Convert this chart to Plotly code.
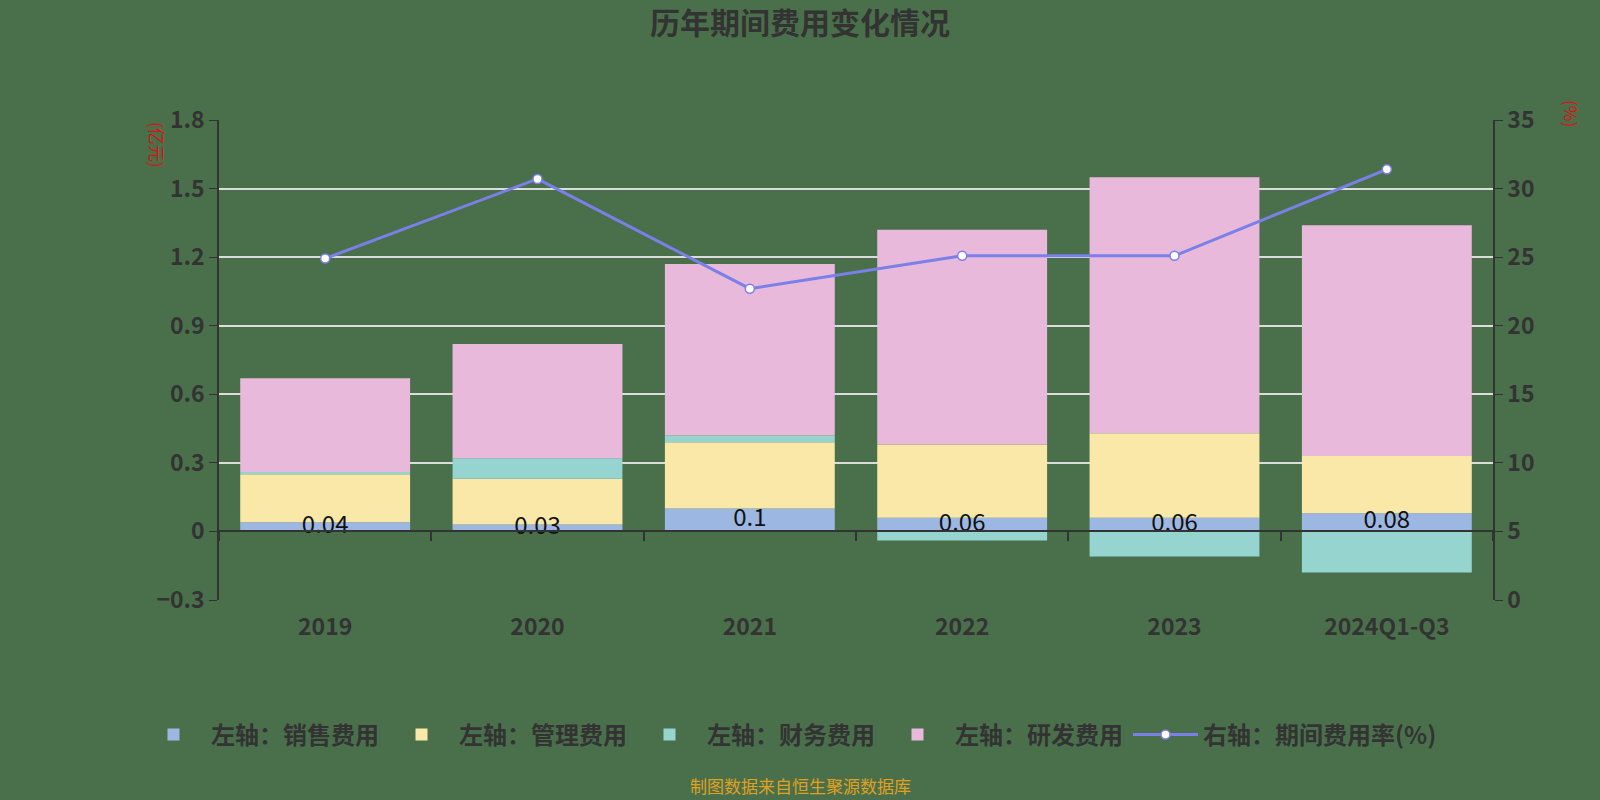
import plotly.graph_objects as go

years = ["2019", "2020", "2021", "2022", "2023", "2024Q1-Q3"]
sales = [0.04, 0.03, 0.10, 0.06, 0.06, 0.08]
mgmt = [0.21, 0.20, 0.29, 0.32, 0.37, 0.25]
finance = [0.01, 0.09, 0.03, -0.04, -0.11, -0.18]
rnd = [0.41, 0.50, 0.75, 0.94, 1.12, 1.01]
rate = [24.9, 30.7, 22.7, 25.1, 25.1, 31.4]

names = ["左轴：销售费用", "左轴：管理费用", "左轴：财务费用", "左轴：研发费用", "右轴：期间费用率(%)"]
colors = ["#9db7e3", "#fae8a8", "#96d4d0", "#e8b9da", "#7b7fe8"]

FONT = "Noto Sans CJK SC"
TXT = "#333333"
BG = "#4a704b"

fig = go.Figure()
for vals, nm, col in zip([sales, mgmt, finance, rnd], names[:4], colors[:4]):
    fig.add_trace(go.Bar(x=years, y=vals, name=nm, marker=dict(color=col, line=dict(width=0)),
                         xaxis="x", yaxis="y"))

fig.add_trace(go.Scatter(x=years, y=rate, name=names[4], mode="lines+markers",
                         line=dict(color=colors[4], width=3),
                         marker=dict(symbol="circle", size=9, color="white",
                                     line=dict(color=colors[4], width=1.5)),
                         xaxis="x", yaxis="y2"))

fig.add_trace(go.Scatter(x=years, y=[v / 2 for v in sales], mode="text",
                         text=[f"{v:g}" for v in sales], showlegend=False,
                         textfont=dict(family=FONT, size=24, color="#111111"),
                         hoverinfo="skip", xaxis="x2", yaxis="y"))

tickfont = dict(family=FONT, size=23, color=TXT, weight="bold")

fig.update_layout(
    width=1600, height=800,
    paper_bgcolor=BG, plot_bgcolor=BG,
    margin=dict(l=219, r=107, t=120, b=200),
    barmode="relative", bargap=0.2,
    font=dict(family=FONT, color=TXT, size=20),
    title=dict(text="<b>历年期间费用变化情况</b>", x=0.5, xanchor="center", y=1 - 23 / 800,
               yanchor="middle", font=dict(family=FONT, size=30, color=TXT)),
    xaxis=dict(type="category", categoryorder="array", categoryarray=years, range=[-0.5, 5.5],
               showgrid=False, showline=False, zeroline=False,
               ticks="outside", ticklen=6, tickcolor="rgba(0,0,0,0)",
               tickfont=tickfont),
    xaxis2=dict(type="category", categoryorder="array", categoryarray=years, range=[-0.5, 5.5],
                overlaying="x", anchor="free", position=0.3 / 2.1,
                showline=True, linecolor="#333333", linewidth=1.5,
                ticks="outside", tickson="boundaries", ticklen=9, tickcolor="#333333", tickwidth=1.5,
                showticklabels=False, showgrid=False, zeroline=False),
    yaxis=dict(range=[-0.3, 1.8], tickmode="linear", tick0=-0.3, dtick=0.3,
               showgrid=True, gridcolor="#dcdcdc", gridwidth=1.5, zeroline=False,
               showline=True, linecolor="#333333", linewidth=1.5,
               ticks="outside", ticklen=8, tickcolor="#333333",
               tickfont=tickfont),
    yaxis2=dict(range=[0, 35], tickmode="linear", tick0=0, dtick=5, overlaying="y", side="right",
                showgrid=False, zeroline=False, showline=True, linecolor="#333333", linewidth=1.5,
                ticks="outside", ticklen=8, tickcolor="#333333",
                tickfont=tickfont),
    legend=dict(orientation="h", x=(136 - 219) / 1274, xanchor="left", y=(600 - 735) / 480,
                yanchor="middle",
                font=dict(family=FONT, size=24, color=TXT, weight="bold"), bgcolor="rgba(0,0,0,0)",
                itemwidth=65, traceorder="normal"),
    showlegend=True,
    annotations=[
        dict(text="(亿元)", x=(158 - 219) / 1274, y=(600 - 145) / 480, xref="paper", yref="paper",
             xanchor="center", yanchor="middle",
             showarrow=False, textangle=90, font=dict(family=FONT, size=17, color="#dd1111")),
        dict(text="(%)", x=(1572 - 219) / 1274, y=(600 - 114) / 480, xref="paper", yref="paper",
             xanchor="center", yanchor="middle",
             showarrow=False, textangle=90, font=dict(family=FONT, size=17, color="#dd1111")),
        dict(text="制图数据来自恒生聚源数据库", x=(800 - 219) / 1274, y=(600 - 785) / 480,
             xref="paper", yref="paper", showarrow=False, xanchor="center", yanchor="middle",
             font=dict(family=FONT, size=17, color="#e0a020")),
    ],
)

fig.write_html("out.html")
